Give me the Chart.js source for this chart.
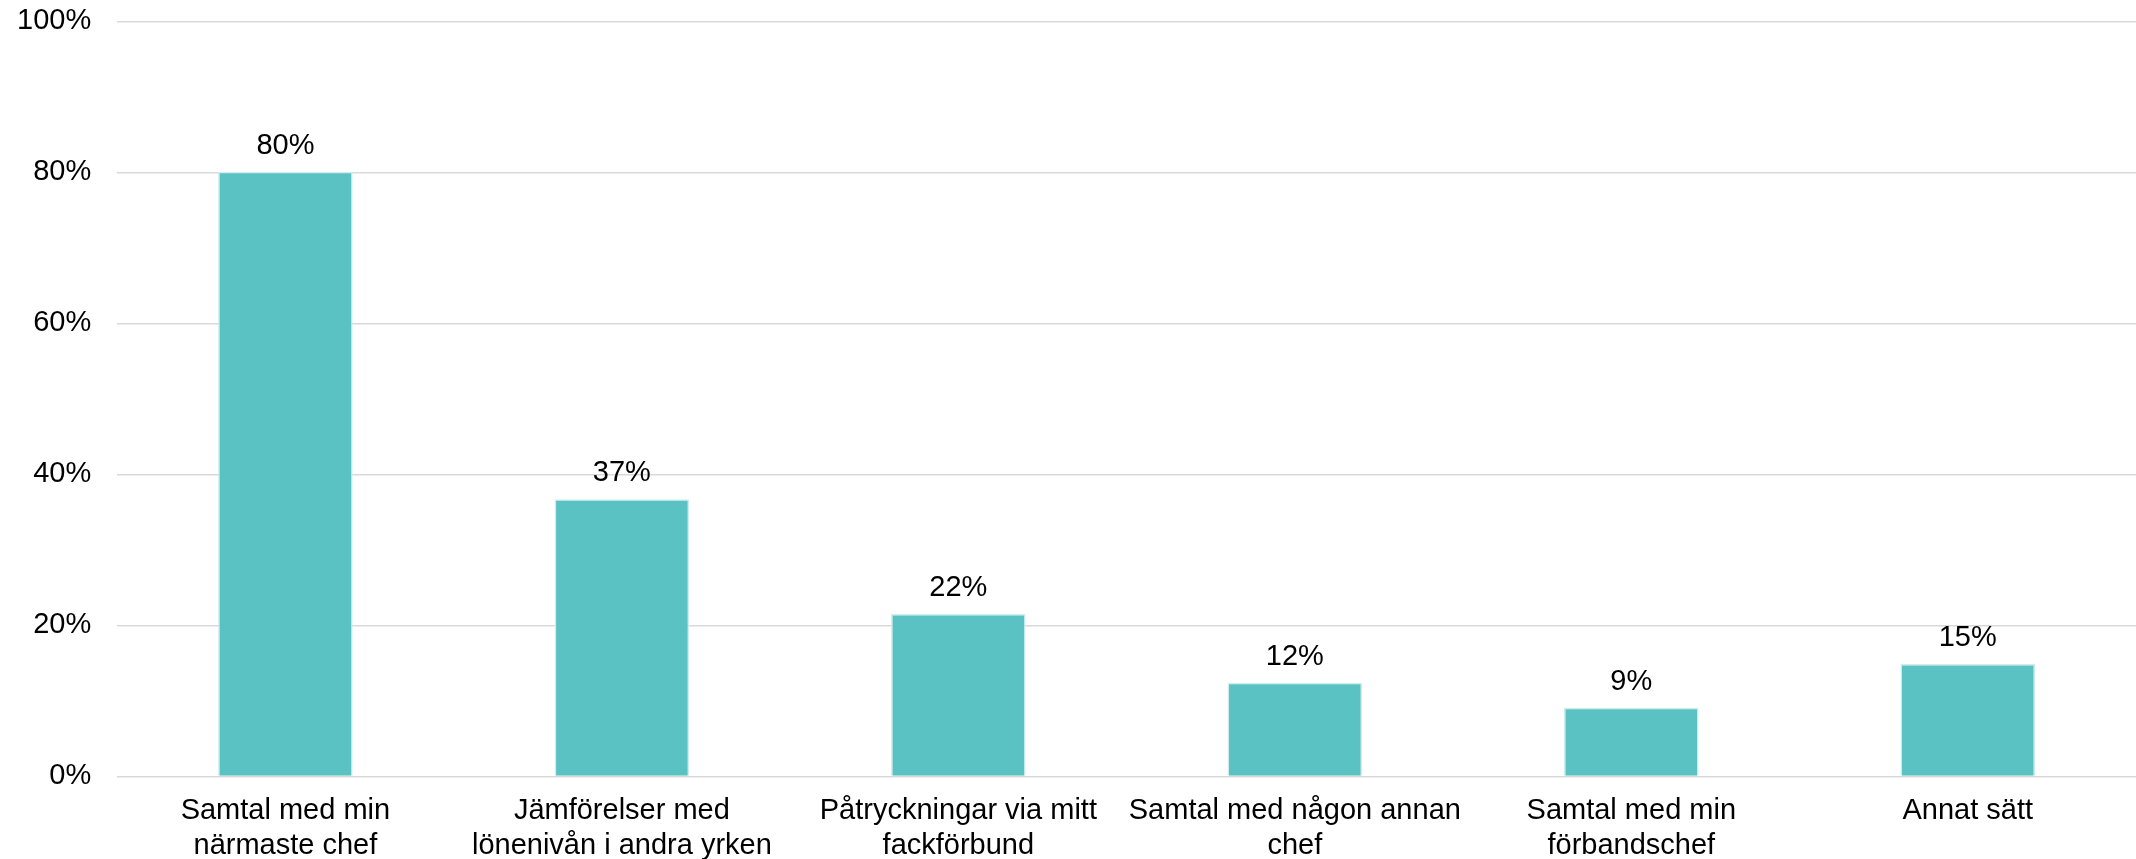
<!DOCTYPE html>
<html>
<head>
<meta charset="utf-8">
<script src="https://cdn.jsdelivr.net/npm/chart.js@4"></script>
<style>
  html, body { margin: 0; padding: 0; background: #ffffff; }
  #frame { width: 2136px; height: 859px; position: relative; overflow: hidden; }
  #wrap { width: 2136px; height: 881px; position: absolute; left: 0; top: -22px; }
</style>
</head>
<body>
<div id="frame"><div id="wrap"><canvas id="c"></canvas></div></div>
<script>
const categories = [
  ["Samtal med min", "närmaste chef"],
  ["Jämförelser med", "lönenivån i andra yrken"],
  ["Påtryckningar via mitt", "fackförbund"],
  ["Samtal med någon annan", "chef"],
  ["Samtal med min", "förbandschef"],
  "Annat sätt"
];
const values = [80.1, 36.7, 21.5, 12.4, 9.1, 14.9];
const valueLabels = ["80%", "37%", "22%", "12%", "9%", "15%"];
const yTicks = [0, 20, 40, 60, 80, 100];

const FONT = "'Liberation Sans', Arial, sans-serif";

const valueLabelPlugin = {
  id: 'valueLabels',
  afterDatasetsDraw(chart) {
    const ctx = chart.ctx;
    const meta = chart.getDatasetMeta(0);
    ctx.save();
    ctx.font = "29px " + FONT;
    ctx.fillStyle = '#000000';
    ctx.textAlign = 'center';
    ctx.textBaseline = 'alphabetic';
    meta.data.forEach((bar, i) => {
      ctx.fillText(valueLabels[i], bar.x, bar.y - 18);
    });
    ctx.restore();
  }
};

new Chart(document.getElementById('c'), {
  type: 'bar',
  data: {
    labels: categories,
    datasets: [{
      data: values,
      backgroundColor: '#5BC2C3',
      borderColor: '#cdeeec',
      borderWidth: 1.5,
      barPercentage: 0.5,
      categoryPercentage: 0.8
    }]
  },
  options: {
    responsive: true,
    maintainAspectRatio: false,
    animation: false,
    layout: { padding: { left: -9, right: 0, top: 0, bottom: -21 } },
    plugins: {
      legend: { display: false },
      tooltip: { enabled: false }
    },
    scales: {
      x: {
        grid: { display: false, drawTicks: false },
        border: { display: false },
        ticks: {
          color: '#000000',
          font: { family: FONT, size: 29, lineHeight: 1.2 },
          autoSkip: false,
          maxRotation: 0,
          minRotation: 0,
          padding: 17
        }
      },
      y: {
        min: 0,
        max: 100,
        afterBuildTicks(axis) { axis.ticks = yTicks.map(v => ({ value: v })); },
        grid: { color: '#d9d9d9', lineWidth: 1.5, drawTicks: false },
        border: { display: false },
        ticks: {
          color: '#000000',
          font: { family: FONT, size: 29 },
          padding: 26,
          callback: v => v + '%'
        }
      }
    }
  },
  plugins: [valueLabelPlugin]
});
</script>
</body>
</html>
